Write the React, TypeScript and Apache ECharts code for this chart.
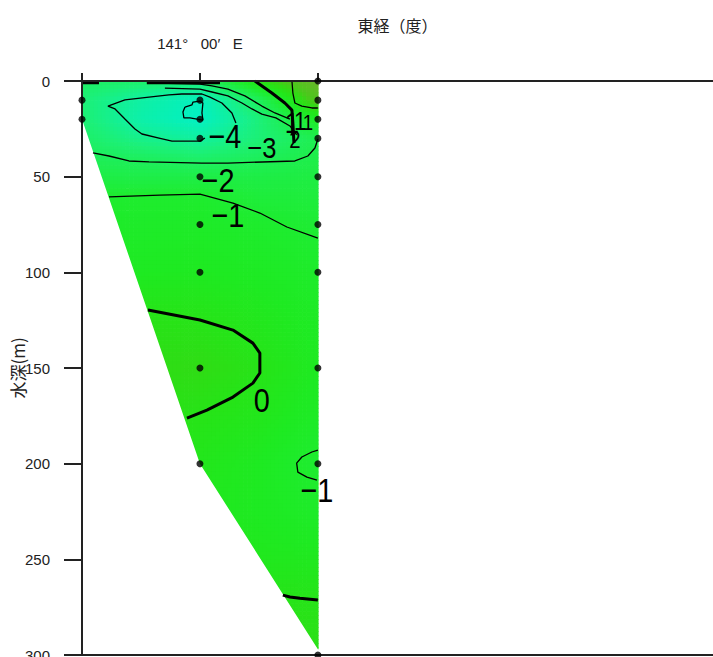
import React, { useEffect, useRef } from "react";
import * as echarts from "echarts";

// x values are minutes of longitude east of 140°E (60 = 141°00′E); y values are depth in metres
const stationLon = [50, 60, 70];
const stationBottom = [20, 200, 297];

const samplePoints: [number, number][] = [
  [50, 10], [50, 20],
  [60, 10], [60, 20], [60, 30], [60, 50], [60, 75], [60, 100], [60, 150], [60, 200],
  [70, 0], [70, 10], [70, 20], [70, 30], [70, 50], [70, 75], [70, 100], [70, 150], [70, 200], [70, 300],
];

const xTickValues = [50, 60, 70];
const xLabelValues = [60];

// gridded values
const fieldLon = [50, 55, 60, 65, 70];
const fieldDepth = [0, 10, 20, 30, 40, 50, 60, 75, 100, 125, 150, 175, 200, 225, 250, 275, 300];
const fieldValues: number[][] = [
  [-2.5, -2.7, -2.8, 0.2, 2.2],
  [-3.0, -4.1, -4.95, -2.3, 1.4],
  [-2.9, -4.3, -5.05, -3.1, -0.6],
  [-2.6, -3.5, -4.0, -3.0, -2.0],
  [-2.2, -2.4, -2.7, -2.3, -1.8],
  [-1.7, -1.8, -1.75, -1.7, -1.6],
  [-1.1, -1.0, -1.0, -1.4, -1.45],
  [-0.8, -0.8, -0.75, -0.95, -1.2],
  [-0.5, -0.5, -0.45, -0.6, -0.85],
  [-0.1, 0.1, 0.02, -0.25, -0.6],
  [0.2, 0.35, 0.4, 0.03, -0.5],
  [0.1, 0.2, 0.03, -0.2, -0.7],
  [0.0, -0.1, -0.2, -0.5, -1.1],
  [-0.1, -0.2, -0.3, -0.5, -0.8],
  [0.0, -0.1, -0.2, -0.3, -0.35],
  [0.1, 0.1, 0.05, 0.05, 0.05],
  [0.2, 0.2, 0.2, 0.2, 0.2],
];

// contour lines [lon, depth]
const contourMinus5: [number, number][] = [
  [58.73, 13.6], [59.32, 12.5], [59.41, 11.0], [60.0, 10.5], [60.25, 11.5], [60.17, 16.7],
  [60.25, 20.4], [59.75, 19.9], [59.15, 19.3], [58.64, 19.3], [58.56, 16.2], [58.73, 13.6],
];
const contourMinus4: [number, number][] = [
  [60.42, 29.8], [60.0, 31.4], [57.63, 31.4], [56.53, 29.8], [55.08, 27.7], [54.49, 25.1],
  [53.64, 19.9], [52.8, 14.6], [52.2, 13.1], [53.64, 9.9], [55.68, 8.4], [57.37, 7.3],
  [58.47, 6.8], [60.17, 6.8], [60.85, 8.4], [61.86, 11.5], [62.71, 16.7], [63.05, 22.0],
];
const contourUpperA: [number, number][] = [
  [55.5, 1.0], [60.0, 1.6], [61.02, 2.6], [62.37, 4.2], [63.81, 7.8], [65.25, 13.1],
  [66.36, 16.7], [67.63, 19.9],
];
const contourUpperB: [number, number][] = [
  [57.03, 3.7], [60.0, 4.2], [61.02, 5.75], [62.37, 7.8], [63.56, 11.5], [64.41, 14.6],
  [65.25, 17.3], [66.44, 19.3], [67.63, 23.5], [68.2, 28.2],
];
const surfaceLeft: [number, number][] = [[50, 1.0], [51.44, 1.0]];
const surfaceMid: [number, number][] = [[55.5, 1.0], [61.7, 1.0]];
const contourMinus2: [number, number][] = [
  [50.93, 37.6], [52.29, 39.2], [53.98, 41.8], [55.68, 42.3], [60.17, 42.9], [62.37, 42.9],
  [68.05, 41.8], [69.15, 39.2], [69.75, 35.0], [70.0, 30.3],
];
const contourMinus1: [number, number][] = [
  [52.29, 60.6], [56.61, 59.6], [60.0, 59.1], [62.8, 63.8], [65.08, 69.0], [67.37, 76.3], [70.0, 82.1],
];
const contourZeroMid: [number, number][] = [
  [55.59, 119.7], [60.0, 124.9], [62.8, 130.2], [64.49, 137.0], [65.08, 142.2], [65.08, 152.6],
  [64.49, 157.9], [62.8, 165.2], [60.59, 172.0], [58.9, 176.2],
];
const contourZeroTop: [number, number][] = [
  [64.66, 0], [66.1, 6.3], [67.2, 11.5], [67.8, 15.2], [67.88, 22.0], [67.97, 32.4],
];
const contourPlus1: [number, number][] = [
  [67.8, 0], [67.88, 6.3], [68.05, 11.5], [68.64, 13.1], [69.49, 14.1], [70, 14.1],
];
const contourMinus1Deep: [number, number][] = [
  [70, 192.9], [69.49, 193.9], [68.64, 196.5], [68.2, 199.7], [68.3, 204.4], [69.07, 207.0], [69.92, 208.6],
];
const contourZeroDeep: [number, number][] = [
  [67.03, 268.7], [67.63, 269.7], [68.47, 270.3], [70, 271.3],
];

// contour labels
const labelText = ["−4", "−3", "2", "−2", "−1", "0", "−1", "1", "1", "1"];
const labelLon = [62.12, 65.25, 68.05, 61.53, 62.37, 65.25, 69.92, 67.8, 68.5, 69.15];
const labelDepth = [28.75, 35.0, 30.8, 51.75, 70.0, 166.8, 213.8, 22.0, 21.0, 21.5];
const labelSize = [34, 30, 24, 34, 34, 34, 34, 30, 26, 22];

const colorStops: [number, number, number, number][] = [
  [-5.2, 0, 240, 200],
  [-4, 16, 240, 160],
  [-3, 28, 240, 118],
  [-2, 30, 238, 80],
  [-1, 30, 236, 46],
  [-0.5, 30, 234, 34],
  [0, 38, 228, 24],
  [0.5, 50, 218, 20],
  [1, 75, 200, 28],
  [2, 100, 184, 40],
];

function valueColor(v: number): string {
  if (v <= colorStops[0][0]) return `rgb(${colorStops[0][1]},${colorStops[0][2]},${colorStops[0][3]})`;
  for (let i = 1; i < colorStops.length; i++) {
    const a = colorStops[i - 1];
    const b = colorStops[i];
    if (v <= b[0]) {
      const t = (v - a[0]) / (b[0] - a[0]);
      const r = Math.round(a[1] + (b[1] - a[1]) * t);
      const g = Math.round(a[2] + (b[2] - a[2]) * t);
      const bl = Math.round(a[3] + (b[3] - a[3]) * t);
      return `rgb(${r},${g},${bl})`;
    }
  }
  const l = colorStops[colorStops.length - 1];
  return `rgb(${l[1]},${l[2]},${l[3]})`;
}

function formatLon(v: number): string {
  const deg = 140 + Math.floor(v / 60);
  const min = Math.round(v % 60);
  return `${deg}°   ${String(min).padStart(2, "0")}′   E`;
}

const axisColor = "#222";
const tickFont = "Liberation Sans";

export default function App() {
  const ref = useRef<HTMLDivElement>(null);
  useEffect(() => {
    if (!ref.current) return;
    const chart = echarts.init(ref.current, undefined, { renderer: "svg" });

    const cells: number[][] = [];
    for (let r = 0; r < fieldDepth.length - 1; r++) {
      for (let c = 0; c < fieldLon.length - 1; c++) {
        cells.push([fieldLon[c], fieldDepth[r], c, r]);
      }
    }

    const lineSeries = (data: [number, number][], width: number) => ({
      type: "line",
      data,
      showSymbol: false,
      symbol: "none",
      z: 4,
      silent: true,
      lineStyle: { color: "#000", width },
    });

    const option: any = {
      animation: false,
      grid: { left: 82, right: 0, top: 81, bottom: 2, containLabel: false, outerBoundsMode: "none" },
      xAxis: [
        {
          type: "value",
          position: "top",
          min: 50,
          max: 103.5,
          z: 10,
          axisLine: { show: true, lineStyle: { color: axisColor, width: 2 } },
          axisTick: { show: true, length: 8, customValues: xTickValues, lineStyle: { color: axisColor, width: 2 } },
          axisLabel: {
            show: true,
            customValues: xLabelValues,
            formatter: formatLon,
            margin: 30,
            fontSize: 15,
            color: axisColor,
            fontFamily: tickFont,
          },
          splitLine: { show: false },
          name: "東経（度）",
          nameLocation: "middle",
          nameGap: 48,
          nameMoveOverlap: false,
          nameTextStyle: { fontSize: 16, color: axisColor, fontFamily: "Noto Sans CJK JP" },
        },
        {
          type: "value",
          position: "bottom",
          min: 50,
          max: 103.5,
          z: 10,
          axisLine: { show: true, lineStyle: { color: axisColor, width: 2 } },
          axisTick: { show: false },
          axisLabel: { show: false },
          splitLine: { show: false },
        },
      ],
      yAxis: {
        type: "value",
        inverse: true,
        min: 0,
        max: 300,
        interval: 50,
        z: 10,
        axisLine: { show: true, lineStyle: { color: axisColor, width: 2 } },
        axisTick: { show: true, length: 18, lineStyle: { color: axisColor, width: 2 } },
        axisLabel: { margin: 32, fontSize: 15, color: axisColor, fontFamily: tickFont },
        splitLine: { show: false },
        name: "水深(m)",
        nameLocation: "middle",
        nameGap: 56,
        nameMoveOverlap: false,
        nameTextStyle: { fontSize: 17, color: axisColor, fontFamily: "Noto Sans CJK JP" },
      },
      series: [
        {
          type: "custom",
          z: 1,
          clip: true,
          silent: true,
          data: cells,
          encode: { x: 0, y: 1 },
          renderItem: (params: any, api: any) => {
            const ci = api.value(2);
            const ri = api.value(3);
            const p0 = api.coord([fieldLon[ci], fieldDepth[ri]]);
            const p1 = api.coord([fieldLon[ci + 1], fieldDepth[ri + 1]]);
            const w = p1[0] - p0[0];
            const h = p1[1] - p0[1];
            const nx = Math.max(1, Math.ceil(w / 4));
            const ny = Math.max(1, Math.ceil(h / 4));
            const v00 = fieldValues[ri][ci];
            const v10 = fieldValues[ri][ci + 1];
            const v01 = fieldValues[ri + 1][ci];
            const v11 = fieldValues[ri + 1][ci + 1];
            const children: any[] = [];
            for (let i = 0; i < nx; i++) {
              for (let j = 0; j < ny; j++) {
                const u = (i + 0.5) / nx;
                const t = (j + 0.5) / ny;
                const v = v00 * (1 - u) * (1 - t) + v10 * u * (1 - t) + v01 * (1 - u) * t + v11 * u * t;
                children.push({
                  type: "rect",
                  shape: { x: p0[0] + (i * w) / nx, y: p0[1] + (j * h) / ny, width: w / nx + 0.7, height: h / ny + 0.7 },
                  style: { fill: valueColor(v) },
                });
              }
            }
            return { type: "group", children };
          },
        },
        {
          type: "custom",
          z: 2,
          clip: true,
          silent: true,
          data: [[stationLon[0], stationBottom[0]]],
          encode: { x: 0, y: 1 },
          renderItem: (params: any, api: any) => {
            const pts = stationLon.map((lon, i) => api.coord([lon, stationBottom[i]]));
            const last = stationLon.length - 1;
            pts.push(api.coord([stationLon[last] + 0.2, stationBottom[last]]));
            pts.push(api.coord([stationLon[last] + 0.2, 300]));
            pts.push(api.coord([stationLon[0], 300]));
            return { type: "polygon", shape: { points: pts }, style: { fill: "#fff" } };
          },
        },
        lineSeries(contourMinus5, 1.3),
        lineSeries(contourMinus4, 1.3),
        lineSeries(contourUpperA, 1.3),
        lineSeries(contourUpperB, 1.3),
        lineSeries(surfaceLeft, 2.5),
        lineSeries(surfaceMid, 2.5),
        lineSeries(contourMinus2, 1.3),
        lineSeries(contourMinus1, 1.3),
        lineSeries(contourZeroMid, 3),
        lineSeries(contourZeroTop, 3),
        lineSeries(contourPlus1, 1.3),
        lineSeries(contourMinus1Deep, 1.3),
        lineSeries(contourZeroDeep, 3),
        {
          type: "custom",
          z: 5,
          clip: false,
          silent: true,
          data: labelText.map((t, i) => [labelLon[i], labelDepth[i], i]),
          encode: { x: 0, y: 1 },
          renderItem: (params: any, api: any) => {
            const i = api.value(2);
            const p = api.coord([labelLon[i], labelDepth[i]]);
            return {
              type: "text",
              x: p[0],
              y: p[1],
              scaleX: 0.85,
              style: {
                text: labelText[i],
                fontSize: labelSize[i],
                fontFamily: "Liberation Sans",
                fill: "#000",
                align: "center",
                verticalAlign: "middle",
              },
            };
          },
        },
        {
          type: "scatter",
          z: 12,
          clip: false,
          silent: true,
          symbol: "circle",
          symbolSize: 7,
          itemStyle: { color: "#000" },
          data: samplePoints,
        },
      ],
    };
    chart.setOption(option);
    return () => chart.dispose();
  }, []);
  return (
    <div
      ref={ref}
      style={{ position: "fixed", left: 0, top: 0, width: 713, height: 657, background: "#fff" }}
    />
  );
}
